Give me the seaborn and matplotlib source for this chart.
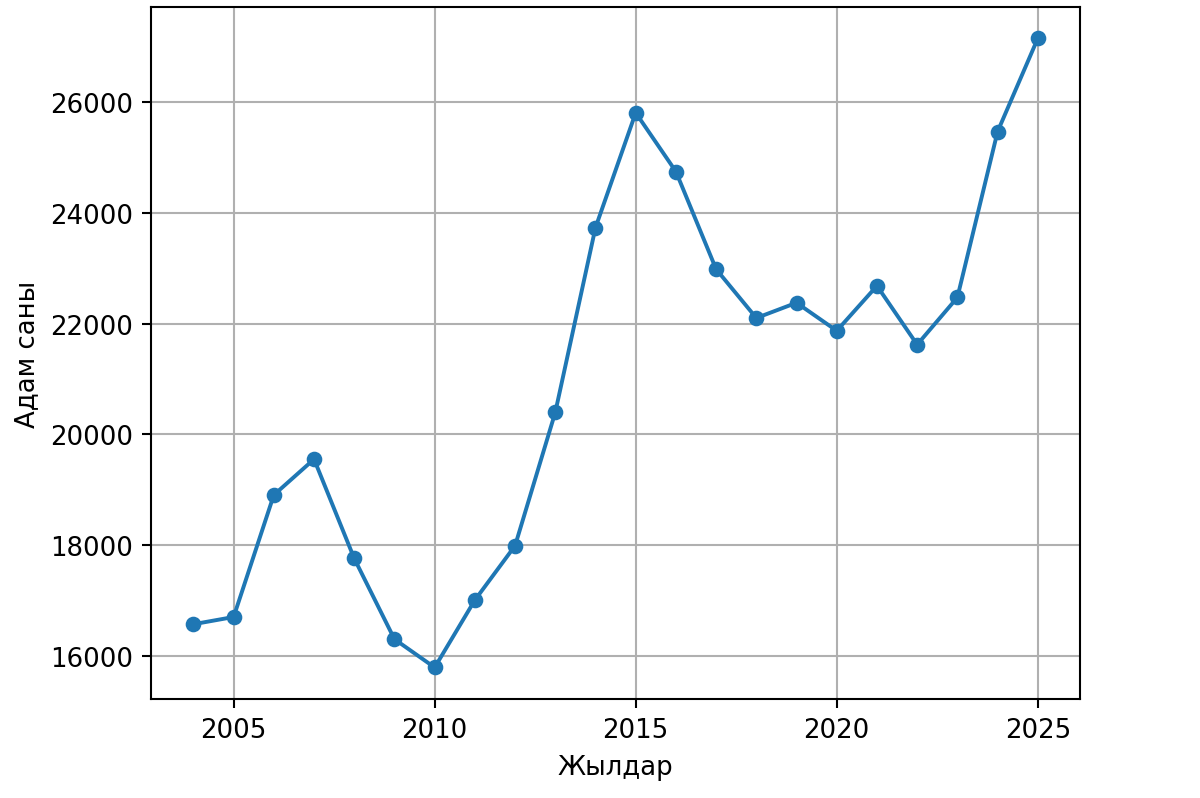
import matplotlib
matplotlib.use("Agg")
import matplotlib.pyplot as plt
import pandas as pd
import seaborn as sns

# Population counts by year
years = [2004, 2005, 2006, 2007, 2008, 2009, 2010, 2011, 2012, 2013, 2014,
         2015, 2016, 2017, 2018, 2019, 2020, 2021, 2022, 2023, 2024, 2025]
people = [16580, 16710, 18910, 19555, 17765, 16310, 15800, 17015, 17995,
          20400, 23730, 25800, 24740, 22980, 22100, 22375, 21870, 22680,
          21620, 22470, 25460, 27140]

x_label = "Жылдар"
y_label = "Адам саны"

df = pd.DataFrame({"year": years, "people": people})

fig = plt.figure(figsize=(6.4, 799 / 187.5), dpi=187.5)
ax = fig.add_axes([0.126, 0.124, 0.774, 0.866])

sns.lineplot(data=df, x="year", y="people", ax=ax, color="#1f77b4",
             marker="o", markersize=6, markeredgewidth=0, linewidth=1.5)

ax.grid(True, color="#b0b0b0", linewidth=0.8)
ax.set_axisbelow(True)
ax.set_xlabel(x_label)
ax.set_ylabel(y_label)

fig.savefig("out.png", dpi=187.5)
